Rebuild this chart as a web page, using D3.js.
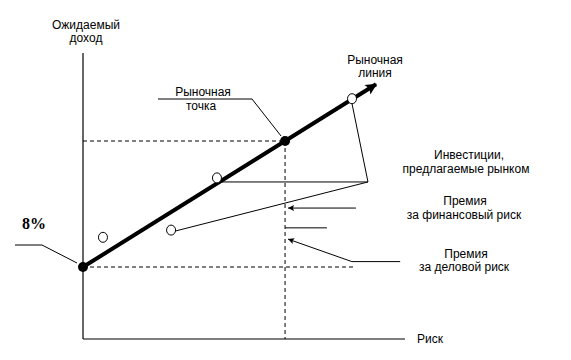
<!DOCTYPE html>
<html><head><meta charset="utf-8">
<script src="https://cdn.jsdelivr.net/npm/d3@7"></script>
<style>body{margin:0;background:#fff}svg{display:block}</style>
</head><body>
<script>
// ---- data ----
const lineRisk = [0, 12.55, 18.2];          // market line: start, market point, arrow tip
const lineReturn = [8, 22.0, 28.3];
const investRisk = [1.24, 8.32, 5.47, 16.71]; // investments offered by market
const investReturn = [11.3, 17.9, 12.1, 26.7];
const riskFreeLabel = ["8%"];
const axisLabels = ["Ожидаемый", "доход", "Риск"];
const labelTexts = [["Рыночная", "точка"], ["Рыночная", "линия"], ["Инвестиции,", "предлагаемые рынком"], ["Премия", "за финансовый риск"], ["Премия", "за деловой риск"]];
// annotation anchors in data units (risk, return)
const convergeRisk = [17.7], convergeReturn = [17.45];
const finPremRet = [14.55], bizArrowRet = [11.1], bizLineRet = [8.6], shortLineRet = [12.35];

const W = 571, H = 360;
const x = d3.scaleLinear().domain([0, 20]).range([83, 405]);
const y = d3.scaleLinear().domain([0, 31.78]).range([339, 53]);

const svg = d3.select("body").append("svg").attr("width", W).attr("height", H);
const defs = svg.append("defs");
defs.append("marker").attr("id", "bigArrow").attr("viewBox", "0 0 10 10").attr("refX", 9).attr("refY", 5)
  .attr("markerWidth", 3.6).attr("markerHeight", 2.8).attr("markerUnits", "strokeWidth").attr("orient", "auto")
  .append("path").attr("d", "M0,0L10,5L0,10L2,5Z").attr("fill", "#000");
defs.append("marker").attr("id", "smallArrow").attr("viewBox", "0 0 10 10").attr("refX", 0).attr("refY", 5)
  .attr("markerWidth", 8).attr("markerHeight", 6).attr("markerUnits", "userSpaceOnUse").attr("orient", "auto")
  .append("path").attr("d", "M0,5L10,0L8,5L10,10Z").attr("fill", "#000");

const font = "'Liberation Sans', Arial, sans-serif";
const g = svg.append("g").attr("font-family", font).attr("font-size", 12).attr("fill", "#000");

// axes
const axisG = svg.append("g");
axisG.append("line").attr("x1", x(0)).attr("x2", x(0)).attr("y1", y(31.78)).attr("y2", y(0)).attr("stroke", "#000").attr("stroke-width", 1.2);
axisG.append("line").attr("x1", x(0)).attr("x2", x(20)).attr("y1", y(0)).attr("y2", y(0)).attr("stroke", "#000").attr("stroke-width", 1.2);

// dashed guides
const dash = "4,3";
svg.append("line").attr("x1", x(0)).attr("x2", x(lineRisk[1])).attr("y1", y(lineReturn[1])).attr("y2", y(lineReturn[1]))
  .attr("stroke", "#000").attr("stroke-dasharray", dash);
svg.append("line").attr("x1", x(lineRisk[1])).attr("x2", x(lineRisk[1])).attr("y1", y(lineReturn[1])).attr("y2", y(0))
  .attr("stroke", "#000").attr("stroke-dasharray", dash);
svg.append("line").attr("x1", x(0)).attr("x2", x(16.9)).attr("y1", y(lineReturn[0])).attr("y2", y(lineReturn[0]))
  .attr("stroke", "#000").attr("stroke-dasharray", dash);

// annotation leader lines
function pl(pts, marker) {
  const p = svg.append("path").attr("d", d3.line()(pts)).attr("stroke", "#000").attr("stroke-width", 1).attr("fill", "none");
  if (marker) p.attr("marker-start", marker);
  return p;
}
const cx = x(convergeRisk[0]), cy = y(convergeReturn[0]);
pl([[x(investRisk[3]), y(investReturn[3]) + 5], [cx, cy]]);
pl([[x(investRisk[1]) + 3, cy], [cx, cy]]);
pl([[x(investRisk[2]) + 4, y(investReturn[2]) + 1], [cx, cy]]);
// premium for financial risk arrow
pl([[x(lineRisk[1]) + 3, y(finPremRet[0])], [x(16.95), y(finPremRet[0])]], "url(#smallArrow)");
// short line
pl([[x(lineRisk[1]), y(shortLineRet[0])], [x(15.15), y(shortLineRet[0])]]);
// premium for business risk arrow
pl([[x(lineRisk[1]) + 3, y(bizArrowRet[0])], [x(16.7), y(bizLineRet[0])], [x(19.7), y(bizLineRet[0])]], "url(#smallArrow)");
// market point leader
pl([[158, 99], [252, 99], [x(lineRisk[1]) - 4, y(lineReturn[1]) - 5]]);
// 8% leader
pl([[15, 245], [42, 245], [x(0) - 6, y(lineReturn[0]) - 4]]);

// market line
svg.append("line").attr("x1", x(lineRisk[0])).attr("y1", y(lineReturn[0]))
  .attr("x2", x(lineRisk[2])).attr("y2", y(lineReturn[2]))
  .attr("stroke", "#000").attr("stroke-width", 4).attr("marker-end", "url(#bigArrow)");

// investments (open circles)
svg.selectAll("ellipse.inv").data(investRisk.map((r, i) => [r, investReturn[i]])).join("ellipse")
  .attr("class", "inv").attr("cx", d => x(d[0])).attr("cy", d => y(d[1]))
  .attr("rx", 4.5).attr("ry", 5).attr("fill", "#fff").attr("stroke", "#000").attr("stroke-width", 1);

// filled points
svg.selectAll("circle.pt").data([0, 1]).join("circle").attr("class", "pt")
  .attr("cx", i => x(lineRisk[i])).attr("cy", i => y(lineReturn[i])).attr("r", 5).attr("fill", "#000");

// texts
function txt(s, tx, ty, anchor = "middle") {
  return g.append("text").attr("x", tx).attr("y", ty).attr("text-anchor", anchor).text(s);
}
txt(axisLabels[0], 86, 29);
txt(axisLabels[1], 86, 42);
txt(axisLabels[2], 417, 343, "start");
txt(labelTexts[0][0], 203, 96); txt(labelTexts[0][1], 201, 110);
txt(labelTexts[1][0], 375, 64); txt(labelTexts[1][1], 375, 77);
txt(labelTexts[2][0], 469, 159); txt(labelTexts[2][1], 466, 173);
txt(labelTexts[3][0], 465, 205); txt(labelTexts[3][1], 464, 219);
txt(labelTexts[4][0], 466, 258); txt(labelTexts[4][1], 464, 271);
svg.append("text").attr("x", 34).attr("y", 229).attr("text-anchor", "middle")
  .attr("font-family", "'Liberation Serif', 'Times New Roman', serif").attr("font-weight", "bold").attr("font-size", 16)
  .text(riskFreeLabel[0]);
</script>
</body></html>
